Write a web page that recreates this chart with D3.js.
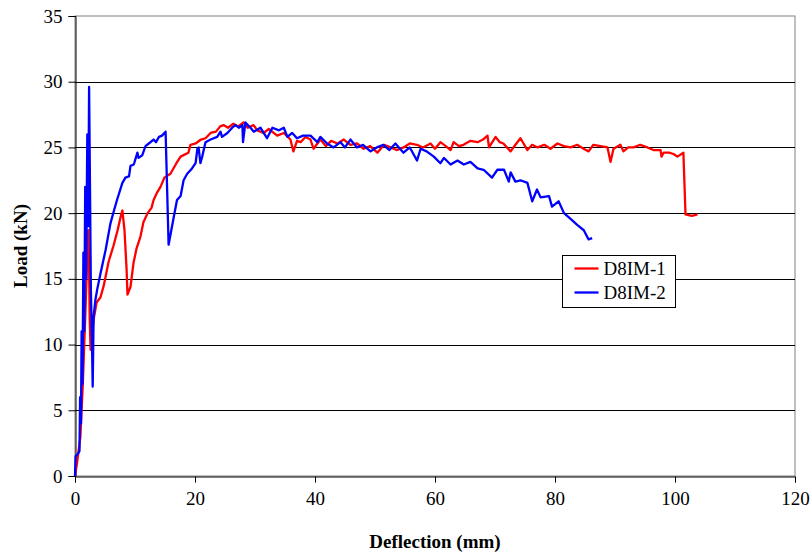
<!DOCTYPE html>
<html>
<head>
<meta charset="utf-8">
<script src="https://cdn.jsdelivr.net/npm/d3@7"></script>
<style>
  body { margin: 0; background: #fff; }
  text { font-family: "Liberation Serif", "Times New Roman", serif; }
</style>
</head>
<body>
<script>
'use strict';

// [deflection (mm), load (kN)]
var d8im1 = [
  [0,0],[0.4,1.2],[0.9,3],[1.3,7],[1.7,12],[2.0,16],[2.2,18.7],[2.35,16],[2.45,12],[2.6,9.6],
  [3.1,11.9],[3.6,13.2],[4.25,13.6],[4.8,14.5],[5.6,16.3],[6.4,17.5],[7.1,18.7],[7.6,19.7],[7.9,20.2],
  [8.25,18.7],[8.6,15.7],[8.75,13.8],[9.25,14.4],[9.75,16.2],[10.25,17.3],[10.9,18.2],[11.4,19.3],
  [12.1,20.0],[12.75,20.4],[13.1,21.0],[13.6,21.5],[14.25,22.0],[14.9,22.7],[15.9,23.0],[16.9,23.8],
  [17.6,24.3],[18.9,24.6],[19.25,25.2],[20.1,25.3],[21.0,25.6],[21.75,25.7],[22.6,26.1],[23.5,26.2],
  [24.2,26.6],[24.75,26.7],[25.5,26.5],[26.4,26.8],[27.2,26.6],[28.1,26.9],[28.8,26.5],[29.75,26.7],
  [30.4,26.3],[31.4,26.1],[32.3,26.4],[33.7,25.9],[34.8,26.1],[35.9,25.6],[36.4,24.7],[37.0,25.5],
  [37.6,25.4],[38.4,25.8],[39.25,25.6],[39.75,24.9],[40.9,25.6],[41.8,25.1],[42.7,25.5],[43.75,25.3],
  [44.8,25.6],[45.9,25.2],[47.0,25.3],[48.1,24.9],[49.2,25.1],[50.4,24.6],[51.5,25.2],[52.6,25.0],
  [53.6,24.8],[54.75,25.0],[55.8,25.3],[57.0,25.2],[58.0,25.0],[59.25,25.3],[60.0,24.9],[60.9,25.4],
  [61.8,25.1],[62.6,24.8],[63.1,25.4],[64.0,25.1],[64.75,25.2],[65.9,25.5],[67.1,25.4],[68.0,25.6],
  [68.75,25.9],[69.0,25.0],[70.1,25.8],[70.8,25.4],[71.4,25.3],[72.6,24.7],[73.4,25.2],[74.25,25.7],
  [75.4,24.8],[76.2,25.2],[77.1,25.0],[78.2,25.2],[79.25,24.9],[80.4,25.3],[81.5,25.1],[82.6,25.0],
  [83.7,25.2],[84.75,24.9],[85.6,24.7],[86.4,25.2],[87.6,25.1],[88.75,25.0],[89.25,23.9],[89.75,24.9],
  [90.9,25.2],[91.4,24.7],[92.2,25.0],[93.1,25.0],[94.2,25.2],[95.4,25.0],[96.4,24.8],[97.6,24.8],
  [97.75,24.3],[98.1,24.6],[99.0,24.6],[99.75,24.5],[100.4,24.3],[101.4,24.6],[101.75,19.9],
  [102.8,19.8],[103.75,19.9]
];

var d8im2 = [
  [0,0],[0.1,1.5],[0.5,1.7],[0.75,1.9],[0.85,6],[1.0,4],[1.1,11],[1.25,7],[1.4,17],[1.55,11],
  [1.7,22],[1.85,15],[2.05,26],[2.2,19],[2.35,29.6],[2.5,22],[2.65,14],[2.8,11],[2.95,6.8],
  [3.1,12.1],[3.4,13.4],[3.7,14.2],[4.25,15.4],[5.1,17.2],[5.9,19.2],[6.5,20.2],[7.0,21.0],[7.9,22.3],
  [8.4,22.7],[9.0,22.8],[9.25,23.6],[9.8,23.7],[10.4,24.6],[10.6,24.2],[11.2,24.4],[11.75,25.1],
  [12.3,25.3],[13.1,25.6],[13.5,25.4],[14.0,25.8],[14.5,25.9],[15.1,26.2],[15.6,17.6],[16.5,19.8],
  [17.0,21.0],[17.6,21.3],[18.1,22.5],[18.7,23.0],[19.5,23.4],[20.1,23.8],[20.4,24.9],[20.6,25.0],
  [20.9,23.8],[21.2,24.3],[21.75,25.4],[22.6,25.6],[23.7,25.8],[24.25,26.2],[24.5,25.8],[25.4,26.1],
  [26.2,26.5],[26.75,26.7],[27.3,26.5],[27.9,26.7],[28.0,25.4],[28.4,26.9],[29.25,26.5],[29.8,26.2],
  [30.9,26.5],[32.0,25.7],[32.9,26.5],[34.0,26.3],[34.8,26.5],[35.4,25.8],[36.2,26.1],[37.0,25.7],
  [38.0,25.9],[39.25,25.9],[40.4,25.4],[40.9,25.8],[42.0,25.3],[43.1,25.0],[44.25,25.4],[45.0,25.0],
  [45.9,25.6],[47.0,25.0],[48.0,25.2],[49.25,24.7],[50.3,25.0],[51.4,25.2],[52.4,24.8],[53.4,25.3],
  [54.75,24.6],[55.8,25.0],[57.0,24.0],[57.6,24.9],[58.6,24.7],[59.8,24.3],[60.9,23.8],[61.5,24.2],
  [62.6,23.7],[63.75,24.0],[64.8,23.7],[65.9,23.9],[67.1,23.4],[68.1,23.3],[69.5,22.7],[70.4,23.3],
  [71.5,23.3],[72.3,22.4],[72.6,23.1],[73.4,22.4],[74.25,22.5],[75.4,22.3],[76.2,20.9],[77.0,21.8],
  [77.6,21.2],[79.0,21.3],[79.5,20.5],[80.6,20.9],[81.5,20.0],[82.5,19.6],[83.7,19.1],[84.8,18.7],
  [85.6,18.0],[86.2,18.1]
];

var seriesNames = ["D8IM-1", "D8IM-2"];
var xTicks = [0, 20, 40, 60, 80, 100, 120];
var yTicks = [0, 5, 10, 15, 20, 25, 30, 35];

var width = 812,
    height = 555;
var margin = { top: 16, right: 17, bottom: 79, left: 75 };
var colors = ["#ff0000", "#0000ff"];

var svg = d3.select("body")
    .append("svg")
    .attr("width", width)
    .attr("height", height);

var x = d3.scaleLinear()
    .domain([0, 120])
    .range([margin.left, width - margin.right]);

var y = d3.scaleLinear()
    .domain([0, 35])
    .range([height - margin.bottom, margin.top]);

// plot frame
svg.append("rect")
    .attr("x", x(0))
    .attr("y", y(35))
    .attr("width", x(120) - x(0))
    .attr("height", y(0) - y(35))
    .attr("fill", "none")
    .attr("stroke", "#808080")
    .attr("stroke-width", 1);

// horizontal grid lines
svg.append("g")
    .selectAll("line")
    .data(yTicks.filter(function(d) { return d > 0 && d < 35; }))
    .enter()
    .append("line")
    .attr("x1", x(0))
    .attr("x2", x(120))
    .attr("y1", function(d) { return Math.round(y(d)) + 0.5; })
    .attr("y2", function(d) { return Math.round(y(d)) + 0.5; })
    .attr("stroke", "#000")
    .attr("stroke-width", 1);

var xAxis = svg.append("g")
    .attr("transform", "translate(0," + (Math.round(y(0)) + 0.5) + ")")
    .call(d3.axisBottom(x).tickValues(xTicks).tickSize(6).tickPadding(9));

var yAxis = svg.append("g")
    .attr("transform", "translate(" + (Math.round(x(0)) + 0.5) + ",0)")
    .call(d3.axisLeft(y).tickValues(yTicks).tickSize(7).tickPadding(6));

[xAxis, yAxis].forEach(function(a) {
    a.select(".domain").attr("stroke", "#000");
    a.selectAll(".tick line").attr("stroke", "#000");
    a.selectAll(".tick text")
        .attr("fill", "#000")
        .style("font-family", "'Liberation Serif', serif")
        .style("font-size", "19px");
});

// axis titles
svg.append("text")
    .attr("x", (x(0) + x(120)) / 2)
    .attr("y", 548)
    .attr("text-anchor", "middle")
    .style("font-size", "19px")
    .style("font-weight", "bold")
    .text("Deflection (mm)");

svg.append("text")
    .attr("transform", "translate(27," + ((y(0) + y(35)) / 2) + ") rotate(-90)")
    .attr("text-anchor", "middle")
    .style("font-size", "19px")
    .style("font-weight", "bold")
    .text("Load (kN)");

// curves
var line = d3.line()
    .x(function(d) { return x(d[0]); })
    .y(function(d) { return y(d[1]); });

svg.append("g")
    .selectAll("path")
    .data([d8im1, d8im2])
    .enter()
    .append("path")
    .attr("d", line)
    .attr("fill", "none")
    .attr("stroke", function(d, i) { return colors[i]; })
    .attr("stroke-width", 2.3)
    .attr("stroke-linejoin", "round");

// legend
var legend = svg.append("g").attr("transform", "translate(562.5,255.5)");

legend.append("rect")
    .attr("width", 113)
    .attr("height", 52)
    .attr("fill", "#fff")
    .attr("stroke", "#000")
    .attr("stroke-width", 1);

var items = legend.selectAll("g.item")
    .data(seriesNames)
    .enter()
    .append("g")
    .attr("class", "item")
    .attr("transform", function(d, i) { return "translate(0," + (13 + i * 24) + ")"; });

items.append("line")
    .attr("x1", 12)
    .attr("x2", 36)
    .attr("stroke", function(d, i) { return colors[i]; })
    .attr("stroke-width", 2.3);

items.append("text")
    .attr("x", 41)
    .attr("dy", "0.35em")
    .style("font-size", "19px")
    .text(function(d) { return d; });
</script>
</body>
</html>
